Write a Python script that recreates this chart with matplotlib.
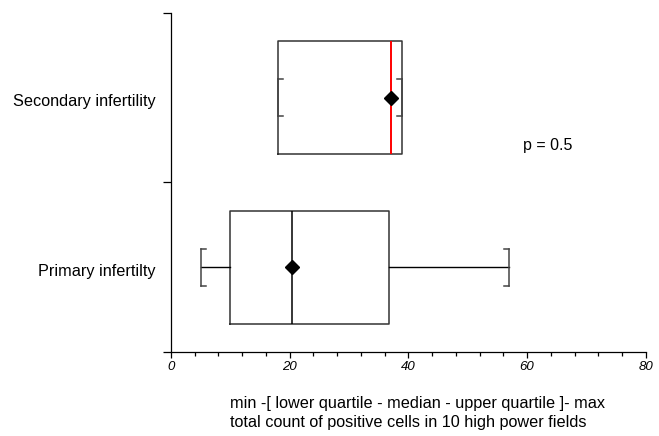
import numpy as np
import matplotlib.pyplot as plt

plt.rcParams['font.family'] = ['Liberation Sans', 'DejaVu Sans']

groups = ['Primary infertilty', 'Secondary infertility']
mins = [5, 18]
q1 = [10, 18]
medians = [20.4, 37]
q3 = [36.7, 39]
maxs = [57, 39]
means = [20.4, 37]
median_colors = ['black', 'red']
p_text = 'p = 0.5'

fig = plt.figure(figsize=(6.59, 4.36), dpi=100)
ax = fig.add_axes([0.2595, 0.193, 0.7205, 0.777])

pos = [0.5, 1.5]
stats = []
for i in range(len(groups)):
    stats.append(dict(whislo=mins[i], q1=q1[i], med=medians[i], q3=q3[i],
                      whishi=maxs[i], mean=means[i], label=groups[i]))

art = ax.bxp(stats, positions=pos, widths=0.667, capwidths=0.22,
             orientation='horizontal', showmeans=True, showfliers=False,
             boxprops=dict(color='#333333', lw=1.1),
             whiskerprops=dict(color='black', lw=1.0),
             capprops=dict(color='#444444', lw=1.1),
             medianprops=dict(color='black', lw=1.1),
             meanprops=dict(marker='D', markerfacecolor='black',
                            markeredgecolor='black', markersize=7))
for line, c in zip(art['medians'], median_colors):
    line.set_color(c)
    if c == 'red':
        line.set_linewidth(1.4)

# bracket ends on caps
tick = 0.9
for i in range(len(groups)):
    for y in (pos[i] - 0.11, pos[i] + 0.11):
        ax.plot([mins[i], mins[i] + tick], [y, y], color='#444444', lw=1.1)
        ax.plot([maxs[i], maxs[i] - tick], [y, y], color='#444444', lw=1.1)

ax.text(63.5, 1.22, p_text, fontsize=11.5, ha='center', va='center')

# category labels, a little below box centres like the original
for g, y in zip(groups, pos):
    ax.annotate(g, xy=(0, y), xycoords=ax.get_yaxis_transform(),
                xytext=(-11, -3), textcoords='offset points',
                ha='right', va='center', fontsize=11.7)

ax.set_xlim(0, 80)
ax.set_ylim(0, 2)
ax.set_xticks([0, 20, 40, 60, 80])
ax.set_xticks(np.arange(0, 81, 4), minor=True)
ax.set_xticklabels(['0', '20', '40', '60', '80'], fontstyle='italic', fontsize=9.5)
ax.set_yticks([0, 1, 2])
ax.set_yticklabels([])
ax.tick_params(axis='y', which='major', length=6, width=0.9, direction='out')
ax.tick_params(axis='x', which='major', length=4.5, width=0.9, direction='out', pad=2)
ax.tick_params(axis='x', which='minor', length=3, width=0.9, direction='out')

for s in ['top', 'right']:
    ax.spines[s].set_visible(False)
ax.spines['left'].set_linewidth(0.9)
ax.spines['bottom'].set_linewidth(0.9)

ax.set_xlabel('min -[ lower quartile - median - upper quartile ]- max\n'
              'total count of positive cells in 10 high power fields',
              fontsize=11.7, labelpad=17, ha='left', x=0.124, linespacing=1.3)

fig.savefig('out.png', dpi=100)
